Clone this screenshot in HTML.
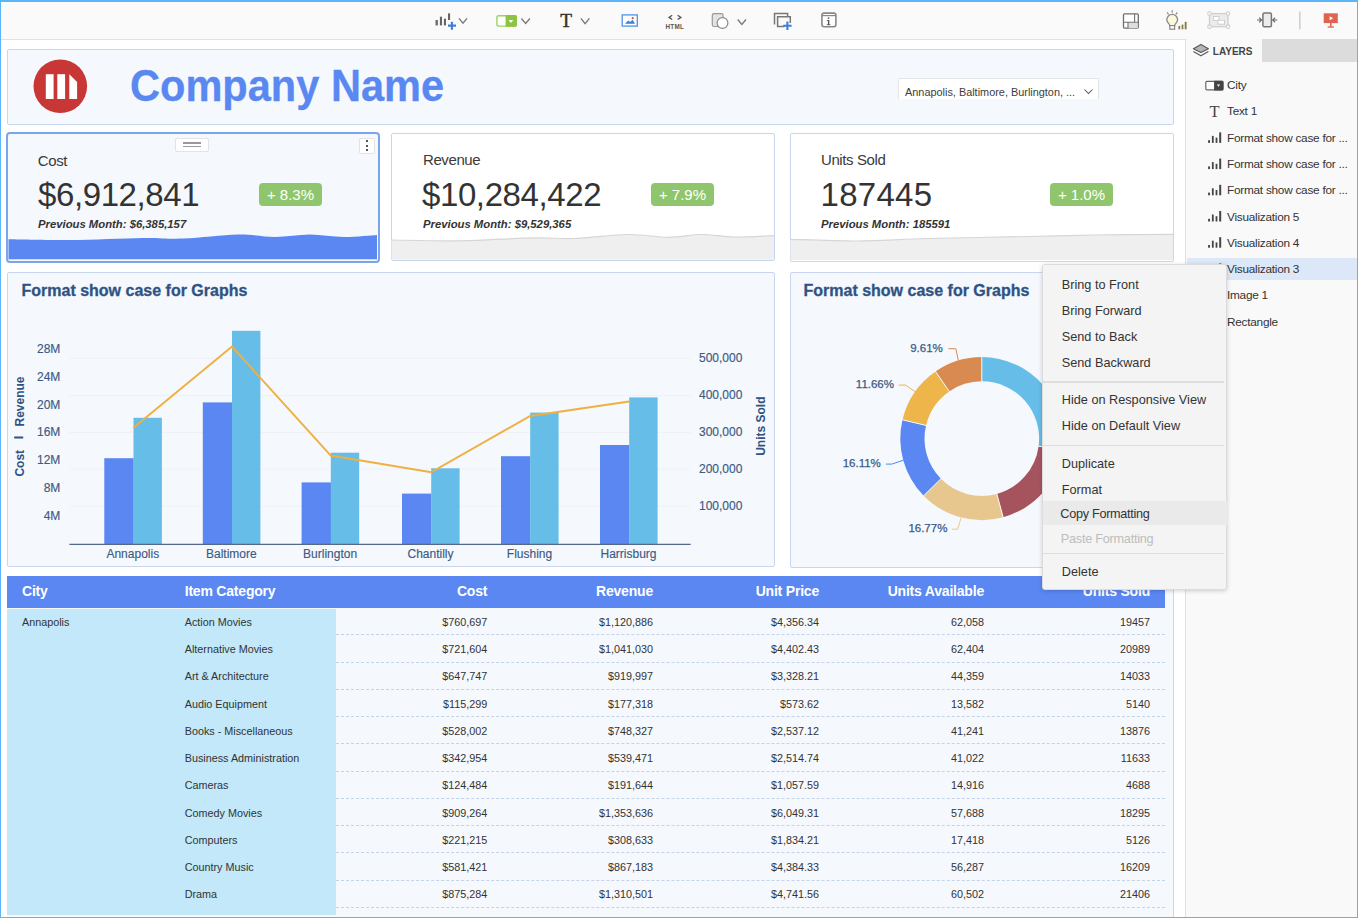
<!DOCTYPE html>
<html><head><meta charset="utf-8">
<style>
*{box-sizing:border-box;margin:0;padding:0}
html,body{width:1360px;height:918px;overflow:hidden;background:#fff;font-family:"Liberation Sans",sans-serif;}
.a{position:absolute}
#frame{position:absolute;left:0;top:0;width:1358px;height:918px;border:1px solid #5bb5f8;border-top:2px solid #5bb5f8;}
#toolbar{position:absolute;left:1px;top:2px;width:1356px;height:37.5px;background:#fafafa;border-bottom:1px solid #e2e2e2;}
.card{position:absolute;background:#f5f8fd;border:1px solid #c8d7ef;border-radius:2px;overflow:hidden}
.kt{position:absolute;font-size:15px;color:#3a3a3a;line-height:1;letter-spacing:-0.4px}
.kv{position:absolute;font-size:33px;color:#333;line-height:1;letter-spacing:-0.4px}
.kp{position:absolute;font-size:11.3px;color:#333;font-weight:bold;font-style:italic;line-height:1}
.badge{position:absolute;width:63px;height:23px;background:#8fc66d;border-radius:4px;color:#fff;font-size:15px;text-align:center;line-height:23px}
.ttl{position:absolute;font-size:16.5px;font-weight:bold;color:#2f5382}
.ax{position:absolute;font-size:12px;color:#3c5a85}
.cm{position:absolute;left:1042px;top:264px;width:185px;height:326px;background:#f4f4f4;border:1px solid #dcdcdc;border-radius:3px;box-shadow:0 1px 4px rgba(0,0,0,.18)}
.mi{position:absolute;left:19px;font-size:12.5px;color:#333;line-height:16px}
.sep{position:absolute;left:0;width:180px;height:2px;background:#e2e2e2}
.li{position:absolute;left:1226px;font-size:11px;color:#333;line-height:14px}
table{border-collapse:collapse}
</style></head><body>
<div id="frame"></div>
<div id="toolbar"></div>
<svg class="a" style="left:0;top:0" width="1360" height="40">
<rect x="435.5" y="20" width="2.4" height="5.4" fill="#6a6a6a"/>
<rect x="439.9" y="16.7" width="2.1" height="8.7" fill="#666"/>
<rect x="443.9" y="18.7" width="2.1" height="6.7" fill="#666"/>
<rect x="448" y="13.3" width="2.1" height="6.7" fill="#666"/>
<path d="M448 25.6H456M451.9 21.7V29.7" stroke="#3d7edb" stroke-width="2.1"/>
<polyline points="459,18.4 463.0,23.2 467,18.4" fill="none" stroke="#777" stroke-width="1.3"/>
<rect x="496.9" y="15.8" width="19.4" height="10.3" rx="1.8" fill="#fff" stroke="#9bd06a" stroke-width="1.4"/>
<path d="M505.6 15.1H515.2A1.8 1.8 0 0 1 517 16.9V25A1.8 1.8 0 0 1 515.2 26.8H505.6Z" fill="#8cc43f"/>
<path d="M508.5 20H513.3L510.9 22.9Z" fill="#fff"/>
<polyline points="521.4,18.5 525.65,23.5 529.9,18.5" fill="none" stroke="#777" stroke-width="1.3"/>
<text x="566.1" y="27" font-family="Liberation Serif" font-size="19.3px" fill="#333" stroke="#333" stroke-width="0.45" text-anchor="middle">T</text>
<polyline points="580.9,18.3 585.15,23.6 589.4,18.3" fill="none" stroke="#777" stroke-width="1.3"/>
<rect x="622.2" y="14.9" width="15.1" height="11.2" fill="#fff" stroke="#5b9ae8" stroke-width="1.4"/>
<path d="M625 23.7L628.2 20.6L630.2 22L632.5 19.8L635 23.7Z" fill="#3d7edb"/>
<circle cx="632.7" cy="18.2" r="1.1" fill="#e05040"/>
<polyline points="672.2,15.3 669,17.4 672.2,19.5" fill="none" stroke="#555" stroke-width="1.3"/>
<polyline points="677.7,15.3 680.9,17.4 677.7,19.5" fill="none" stroke="#555" stroke-width="1.3"/>
<text x="674.8" y="29.1" font-size="6.3px" font-weight="bold" fill="#555" text-anchor="middle" letter-spacing="0.3">HTML</text>
<rect x="712.3" y="13.7" width="10.8" height="12.8" rx="1.8" fill="#e4e4e4" stroke="#999" stroke-width="1.2"/>
<circle cx="722.5" cy="23" r="5.4" fill="#fff" stroke="#8a8a8a" stroke-width="1.2"/>
<polyline points="737.7,19.5 741.85,24.5 746,19.5" fill="none" stroke="#777" stroke-width="1.3"/>
<path d="M774.5 24.5V13.6H787.6V16" fill="none" stroke="#777" stroke-width="1.5"/>
<path d="M784.5 26.6H777.6V16.7H790.3V23" fill="none" stroke="#777" stroke-width="1.5"/>
<path d="M783.2 25.7H791.6M787.4 21.5V29.9" stroke="#3d7edb" stroke-width="2.1"/>
<rect x="821.9" y="13.1" width="14" height="13.7" rx="2.2" fill="#fff" stroke="#888" stroke-width="1.6"/>
<line x1="821.9" x2="835.9" y1="15.6" y2="15.6" stroke="#888" stroke-width="1.2"/>
<rect x="827.8" y="17.4" width="1.5" height="1.5" fill="#555"/><rect x="827.9" y="20" width="1.4" height="5" fill="#555"/><rect x="826.9" y="20" width="1.2" height="0.9" fill="#555"/><rect x="826.8" y="24.3" width="3.6" height="0.9" fill="#555"/>
<rect x="1123.5" y="13.9" width="14.8" height="14.2" rx="1" fill="#fff" stroke="#707070" stroke-width="1.3"/>
<rect x="1128.5" y="22.8" width="9.2" height="5.4" fill="#ddd"/>
<path d="M1134.6 14V22.3M1123.6 22.3H1138.2M1128 22.3V28" fill="none" stroke="#707070" stroke-width="1.1"/>
<path d="M1169.8 25.6C1169.6 23.8 1166.8 22.6 1166.8 19.8A5.4 5.4 0 0 1 1177.6 19.8C1177.6 22.6 1174.8 23.8 1174.6 25.6Z" fill="#fbf8dc" stroke="#888" stroke-width="1.3"/>
<rect x="1169.8" y="25.6" width="4.8" height="3.6" fill="#fff" stroke="#888" stroke-width="1.2"/>
<path d="M1172.2 10.2V12.8M1167.1 12.5L1168.6 14.3M1177.3 12.5L1175.8 14.3" stroke="#888" stroke-width="1.2"/>
<rect x="1178.4" y="25.9" width="1.8" height="3.4" fill="#8a7d4a"/><rect x="1181.6" y="24.6" width="1.8" height="4.7" fill="#8a7d4a"/><rect x="1184.7" y="21.8" width="1.9" height="7.5" fill="#8a7d4a"/>
<rect x="1209.5" y="13.6" width="18.5" height="13.1" fill="#ececec" stroke="#cfcfcf" stroke-width="1.3"/>
<rect x="1213.5" y="16.5" width="5.5" height="4" fill="#fff" stroke="#cfcfcf" stroke-width="1"/><rect x="1218" y="20.2" width="6.5" height="4" fill="#fff" stroke="#cfcfcf" stroke-width="1"/>
<circle cx="1209.5" cy="13.6" r="1.8" fill="#fafafa" stroke="#cfcfcf" stroke-width="1.1"/>
<circle cx="1228" cy="13.6" r="1.8" fill="#fafafa" stroke="#cfcfcf" stroke-width="1.1"/>
<circle cx="1209.5" cy="26.7" r="1.8" fill="#fafafa" stroke="#cfcfcf" stroke-width="1.1"/>
<circle cx="1228" cy="26.7" r="1.8" fill="#fafafa" stroke="#cfcfcf" stroke-width="1.1"/>
<rect x="1262.9" y="13.1" width="8.5" height="13.7" rx="1.5" fill="#ececec" stroke="#777" stroke-width="1.5"/>
<path d="M1257 20H1261.5M1259.2 17.6L1261.6 20L1259.2 22.4M1277.3 20H1272.8M1275.1 17.6L1272.7 20L1275.1 22.4" fill="none" stroke="#666" stroke-width="1.1"/>
<rect x="1299.1" y="11.6" width="1.5" height="17.8" fill="#cdcdcd"/>
<rect x="1323.7" y="13.3" width="14.1" height="9.8" fill="#e0634f"/>
<path d="M1329.6 16.2L1333.2 18.2L1329.6 20.2Z" fill="#fff"/>
<rect x="1330" y="23" width="1.6" height="3.6" fill="#e0634f"/><rect x="1327.7" y="26.3" width="6.1" height="1.4" fill="#e0634f"/>
</svg>

<!-- layers panel -->
<div class="a" style="left:1185px;top:39px;width:172px;height:878px;background:#f9f9f9;border-left:1.5px solid #e0e0e0"></div>
<div class="a" style="left:1262px;top:39px;width:95px;height:22.5px;background:#dcdcdc"></div>
<div class="a" style="left:1187px;top:258.3px;width:170px;height:22px;background:#dce8f8"></div>
<div class="a" style="left:1212.8px;top:46.7px;font-size:10px;line-height:1;color:#444;font-weight:bold;white-space:nowrap">LAYERS</div>
<div class="a" style="left:1227px;top:80.0px;font-size:11.8px;line-height:1;color:#333;letter-spacing:-0.25px;white-space:nowrap">City</div>
<div class="a" style="left:1227px;top:106.3px;font-size:11.8px;line-height:1;color:#333;letter-spacing:-0.25px;white-space:nowrap">Text 1</div>
<div class="a" style="left:1227px;top:132.6px;font-size:11.8px;line-height:1;color:#333;letter-spacing:-0.25px;white-space:nowrap">Format show case for ...</div>
<div class="a" style="left:1227px;top:158.9px;font-size:11.8px;line-height:1;color:#333;letter-spacing:-0.25px;white-space:nowrap">Format show case for ...</div>
<div class="a" style="left:1227px;top:185.2px;font-size:11.8px;line-height:1;color:#333;letter-spacing:-0.25px;white-space:nowrap">Format show case for ...</div>
<div class="a" style="left:1227px;top:211.5px;font-size:11.8px;line-height:1;color:#333;letter-spacing:-0.25px;white-space:nowrap">Visualization 5</div>
<div class="a" style="left:1227px;top:237.8px;font-size:11.8px;line-height:1;color:#333;letter-spacing:-0.25px;white-space:nowrap">Visualization 4</div>
<div class="a" style="left:1227px;top:264.1px;font-size:11.8px;line-height:1;color:#333;letter-spacing:-0.25px;white-space:nowrap">Visualization 3</div>
<div class="a" style="left:1227px;top:290.4px;font-size:11.8px;line-height:1;color:#333;letter-spacing:-0.25px;white-space:nowrap">Image 1</div>
<div class="a" style="left:1227px;top:316.7px;font-size:11.8px;line-height:1;color:#333;letter-spacing:-0.25px;white-space:nowrap">Rectangle</div>

<svg class="a" style="left:1186px;top:40px" width="171" height="300">
<polygon points="7.4,8.7 14.9,4.4 22.4,8.7 14.9,12.5" fill="#b5b5b5" stroke="#5a5a5a" stroke-width="1.2" stroke-linejoin="round"/>
<polyline points="7.4,11.4 14.9,15.8 22.4,11.4" fill="none" stroke="#5a5a5a" stroke-width="1.2" stroke-linejoin="round"/>
<rect x="19.8" y="41.4" width="17.1" height="8.5" rx="1.2" fill="#fff" stroke="#666" stroke-width="1.2"/>
<path d="M28.1 40.8H36.3A1.2 1.2 0 0 1 37.5 42.0V49.3A1.2 1.2 0 0 1 36.3 50.5H28.1Z" fill="#444"/>
<path d="M30.9 44.6H34.1L32.5 46.7Z" fill="#fff"/>
<text x="28.6" y="76.8" font-family="Liberation Serif" font-size="16.5px" fill="#444" text-anchor="middle">T</text>
<rect x="22.1" y="100.2" width="1.9" height="2.7" fill="#454545"/>
<rect x="25.9" y="95.9" width="1.8" height="7.0" fill="#454545"/>
<rect x="29.6" y="97.6" width="1.8" height="5.3" fill="#454545"/>
<rect x="33.2" y="92.4" width="2.0" height="10.5" fill="#454545"/>
<rect x="22.1" y="126.4" width="1.9" height="2.7" fill="#454545"/>
<rect x="25.9" y="122.1" width="1.8" height="7.0" fill="#454545"/>
<rect x="29.6" y="123.8" width="1.8" height="5.3" fill="#454545"/>
<rect x="33.2" y="118.6" width="2.0" height="10.5" fill="#454545"/>
<rect x="22.1" y="152.6" width="1.9" height="2.7" fill="#454545"/>
<rect x="25.9" y="148.3" width="1.8" height="7.0" fill="#454545"/>
<rect x="29.6" y="150.0" width="1.8" height="5.3" fill="#454545"/>
<rect x="33.2" y="144.8" width="2.0" height="10.5" fill="#454545"/>
<rect x="22.1" y="178.8" width="1.9" height="2.7" fill="#454545"/>
<rect x="25.9" y="174.5" width="1.8" height="7.0" fill="#454545"/>
<rect x="29.6" y="176.2" width="1.8" height="5.3" fill="#454545"/>
<rect x="33.2" y="171.0" width="2.0" height="10.5" fill="#454545"/>
<rect x="22.1" y="205.0" width="1.9" height="2.7" fill="#454545"/>
<rect x="25.9" y="200.7" width="1.8" height="7.0" fill="#454545"/>
<rect x="29.6" y="202.4" width="1.8" height="5.3" fill="#454545"/>
<rect x="33.2" y="197.2" width="2.0" height="10.5" fill="#454545"/>
<rect x="22.1" y="231.2" width="1.9" height="2.7" fill="#454545"/>
<rect x="25.9" y="226.9" width="1.8" height="7.0" fill="#454545"/>
<rect x="29.6" y="228.6" width="1.8" height="5.3" fill="#454545"/>
<rect x="33.2" y="223.4" width="2.0" height="10.5" fill="#454545"/>
</svg>
<!-- header -->
<div class="card" style="left:7px;top:49px;width:1167px;height:76px;"></div>
<svg class="a" style="left:33px;top:59px" width="55" height="55"><circle cx="27.3" cy="27.3" r="26.8" fill="#c93636"/><rect x="12.8" y="15.2" width="7.8" height="24.8" fill="#fff"/><rect x="24.3" y="15.2" width="7.8" height="24.8" fill="#fff"/><path d="M36.3 15.2 L44.1 23 L44.1 40 L36.3 40Z" fill="#fff"/></svg>
<div class="a" style="left:130px;top:61.5px;font-size:44.6px;font-weight:bold;color:#5a88f1;line-height:48px;-webkit-text-stroke:0.3px #5a88f1;transform:scaleX(0.932);transform-origin:0 0;white-space:nowrap">Company Name</div>
<div class="a" style="left:898px;top:78px;width:201px;height:21px;background:#fff;border:1px solid #e4e4e4;border-bottom:none;border-radius:2px 2px 0 0"></div>
<div class="a" style="left:905px;top:86.6px;font-size:10.9px;line-height:1;color:#3d3d3d;white-space:nowrap">Annapolis, Baltimore, Burlington, ...</div>
<svg class="a" style="left:1083px;top:88px" width="12" height="8"><polyline points="1.5,1.5 5.5,5.5 9.5,1.5" fill="none" stroke="#555" stroke-width="1.05"/></svg>

<!-- KPI cards -->
<div class="card" style="left:6px;top:132px;width:374px;height:131px;border:2px solid #7aa4ec;border-radius:4px"></div>
<div class="card" style="left:391px;top:133px;width:384px;height:128px;background:#fff"></div>
<div class="card" style="left:790px;top:133px;width:384px;height:129px;background:#fff"></div>


<!-- KPI content -->
<div class="a" style="left:175px;top:138px;width:34px;height:14px;background:#fff;border:1px solid #e3e3e3;border-radius:2px"></div>
<div class="a" style="left:183px;top:142px;width:18px;height:1.5px;background:#999"></div>
<div class="a" style="left:183px;top:145.5px;width:18px;height:1.5px;background:#999"></div>
<div class="a" style="left:359px;top:138px;width:16px;height:16px;background:#fff;border:1px solid #e3e3e3;border-radius:2px"></div>
<div class="a" style="left:366px;top:140px;width:2px;height:2px;background:#555"></div>
<div class="a" style="left:366px;top:144.5px;width:2px;height:2px;background:#555"></div>
<div class="a" style="left:366px;top:149px;width:2px;height:2px;background:#555"></div>

<div class="kt" style="left:37.8px;top:152.7px">Cost</div>
<div class="kv" style="left:38px;top:178.2px">$6,912,841</div>
<div class="kp" style="left:38px;top:218.8px">Previous Month: $6,385,157</div>
<div class="badge" style="left:259px;top:182.5px">+ 8.3%</div>


<div class="kt" style="left:423px;top:152.0px">Revenue</div>
<div class="kv" style="left:422px;top:177.7px">$10,284,422</div>
<div class="kp" style="left:423px;top:218.5px">Previous Month: $9,529,365</div>
<div class="badge" style="left:651px;top:182.5px">+ 7.9%</div>


<div class="kt" style="left:821px;top:152.2px">Units Sold</div>
<div class="kv" style="left:820.5px;top:177.7px;letter-spacing:0.3px">187445</div>
<div class="kp" style="left:821px;top:218.5px">Previous Month: 185591</div>
<div class="badge" style="left:1050px;top:182.5px">+ 1.0%</div>
<svg class="a" style="left:0;top:0" width="1360" height="270"><path d="M8.5 239.3 C17.9 239.4 47.4 240.2 70.0 240.0 C92.6 239.8 124.1 238.2 143.0 237.9 C161.9 237.7 167.7 239.1 183.5 238.5 C199.3 237.9 222.8 234.8 238.0 234.5 C253.2 234.2 263.1 237.0 275.0 237.0 C286.9 237.0 298.2 234.5 309.7 234.5 C321.2 234.5 332.6 236.9 344.0 237.0 C355.4 237.1 372.3 235.3 377.0 235.0 L377 259.3 L8.5 259.3Z" fill="#5a87f2"/><path d="M391.5 240.0 C402.7 240.1 435.2 241.2 458.8 240.8 C482.4 240.5 514.3 238.3 533.4 237.9 C552.5 237.5 557.7 239.1 573.5 238.5 C589.3 237.9 612.2 234.7 628.0 234.5 C643.8 234.3 655.8 237.3 668.0 237.3 C680.2 237.3 690.0 234.6 701.0 234.5 C712.0 234.4 721.8 236.8 734.0 237.0 C746.2 237.2 767.3 235.8 774.0 235.6 L774 259.8 L391.5 259.8Z" fill="#efefef"/><path d="M391.5 240.0 C402.7 240.1 435.2 241.2 458.8 240.8 C482.4 240.5 514.3 238.3 533.4 237.9 C552.5 237.5 557.7 239.1 573.5 238.5 C589.3 237.9 612.2 234.7 628.0 234.5 C643.8 234.3 655.8 237.3 668.0 237.3 C680.2 237.3 690.0 234.6 701.0 234.5 C712.0 234.4 721.8 236.8 734.0 237.0 C746.2 237.2 767.3 235.8 774.0 235.6" fill="none" stroke="#d6d6d6" stroke-width="1.2"/><path d="M790.5 239.3 C801.5 239.6 833.7 241.1 856.7 241.0 C879.7 240.9 899.7 239.2 928.4 238.5 C957.1 237.8 1001.1 237.1 1028.8 236.5 C1056.5 235.9 1070.7 235.4 1094.7 235.0 C1118.7 234.6 1160.0 234.4 1173.0 234.3 L1173 260 L790.5 260Z" fill="#efefef"/><path d="M790.5 239.3 C801.5 239.6 833.7 241.1 856.7 241.0 C879.7 240.9 899.7 239.2 928.4 238.5 C957.1 237.8 1001.1 237.1 1028.8 236.5 C1056.5 235.9 1070.7 235.4 1094.7 235.0 C1118.7 234.6 1160.0 234.4 1173.0 234.3" fill="none" stroke="#d6d6d6" stroke-width="1.2"/></svg>

<!-- charts -->
<div class="card" style="left:7px;top:272px;width:768px;height:295px"></div>
<div class="card" style="left:790px;top:272px;width:384px;height:296px"></div>

<!-- chart1 -->
<svg class="a" style="left:0;top:0" width="1360" height="918" font-family="Liberation Sans">
<text x="21.5" y="296.2" font-size="16px" font-weight="bold" fill="#2f5382" stroke="#2f5382" stroke-width="0.3">Format show case for Graphs</text>
<line x1="69.4" x2="690.7" y1="358.3" y2="358.3" stroke="#f0f1f5" stroke-width="1"/>
<line x1="69.4" x2="690.7" y1="395.5" y2="395.5" stroke="#f0f1f5" stroke-width="1"/>
<line x1="69.4" x2="690.7" y1="432.5" y2="432.5" stroke="#f0f1f5" stroke-width="1"/>
<line x1="69.4" x2="690.7" y1="469.1" y2="469.1" stroke="#f0f1f5" stroke-width="1"/>
<line x1="69.4" x2="690.7" y1="506.2" y2="506.2" stroke="#f0f1f5" stroke-width="1"/>
<text x="60.3" y="353.1" font-size="12px" fill="#3c5a85" stroke="#3c5a85" stroke-width="0.15" text-anchor="end">28M</text>
<text x="60.3" y="380.9" font-size="12px" fill="#3c5a85" stroke="#3c5a85" stroke-width="0.15" text-anchor="end">24M</text>
<text x="60.3" y="408.6" font-size="12px" fill="#3c5a85" stroke="#3c5a85" stroke-width="0.15" text-anchor="end">20M</text>
<text x="60.3" y="436.4" font-size="12px" fill="#3c5a85" stroke="#3c5a85" stroke-width="0.15" text-anchor="end">16M</text>
<text x="60.3" y="464.2" font-size="12px" fill="#3c5a85" stroke="#3c5a85" stroke-width="0.15" text-anchor="end">12M</text>
<text x="60.3" y="492.0" font-size="12px" fill="#3c5a85" stroke="#3c5a85" stroke-width="0.15" text-anchor="end">8M</text>
<text x="60.3" y="519.7" font-size="12px" fill="#3c5a85" stroke="#3c5a85" stroke-width="0.15" text-anchor="end">4M</text>
<text x="699" y="361.7" font-size="12px" fill="#3c5a85" stroke="#3c5a85" stroke-width="0.15">500,000</text>
<text x="699" y="398.7" font-size="12px" fill="#3c5a85" stroke="#3c5a85" stroke-width="0.15">400,000</text>
<text x="699" y="435.6" font-size="12px" fill="#3c5a85" stroke="#3c5a85" stroke-width="0.15">300,000</text>
<text x="699" y="472.6" font-size="12px" fill="#3c5a85" stroke="#3c5a85" stroke-width="0.15">200,000</text>
<text x="699" y="509.6" font-size="12px" fill="#3c5a85" stroke="#3c5a85" stroke-width="0.15">100,000</text>
<rect x="104.3" y="458.2" width="29.4" height="86.1" fill="#5a87f2"/>
<rect x="133.5" y="417.8" width="28.4" height="126.5" fill="#66bde8"/>
<text x="132.8" y="558" font-size="12px" fill="#3c5a85" stroke="#3c5a85" stroke-width="0.15" text-anchor="middle">Annapolis</text>
<rect x="202.8" y="402.4" width="29.4" height="141.9" fill="#5a87f2"/>
<rect x="232.0" y="330.8" width="28.4" height="213.5" fill="#66bde8"/>
<text x="231.3" y="558" font-size="12px" fill="#3c5a85" stroke="#3c5a85" stroke-width="0.15" text-anchor="middle">Baltimore</text>
<rect x="301.6" y="482.4" width="29.4" height="61.9" fill="#5a87f2"/>
<rect x="330.8" y="452.7" width="28.4" height="91.6" fill="#66bde8"/>
<text x="330.1" y="558" font-size="12px" fill="#3c5a85" stroke="#3c5a85" stroke-width="0.15" text-anchor="middle">Burlington</text>
<rect x="402.0" y="493.6" width="29.4" height="50.7" fill="#5a87f2"/>
<rect x="431.2" y="468.3" width="28.4" height="76.0" fill="#66bde8"/>
<text x="430.5" y="558" font-size="12px" fill="#3c5a85" stroke="#3c5a85" stroke-width="0.15" text-anchor="middle">Chantilly</text>
<rect x="501.0" y="456.2" width="29.4" height="88.1" fill="#5a87f2"/>
<rect x="530.2" y="412.6" width="28.4" height="131.7" fill="#66bde8"/>
<text x="529.5" y="558" font-size="12px" fill="#3c5a85" stroke="#3c5a85" stroke-width="0.15" text-anchor="middle">Flushing</text>
<rect x="600.0" y="445.0" width="29.4" height="99.3" fill="#5a87f2"/>
<rect x="629.2" y="397.4" width="28.4" height="146.9" fill="#66bde8"/>
<text x="628.5" y="558" font-size="12px" fill="#3c5a85" stroke="#3c5a85" stroke-width="0.15" text-anchor="middle">Harrisburg</text>
<polyline points="133.5,427.7 232.0,346.6 330.8,455.6 431.2,472.3 530.2,415.9 629.2,401.4" fill="none" stroke="#efb040" stroke-width="2"/>
<line x1="69.4" x2="690.7" y1="544.3" y2="544.3" stroke="#54698a" stroke-width="1.2"/>
<text transform="translate(24.3,476.6) rotate(-90)" font-size="12px" font-weight="bold" fill="#2f5382">Cost</text>
<rect x="14.2" y="436.5" width="9" height="2" fill="#2f5382"/>
<text transform="translate(24.3,426.5) rotate(-90)" font-size="12px" font-weight="bold" fill="#2f5382">Revenue</text>
<text transform="translate(765.3,455.8) rotate(-90)" font-size="12px" font-weight="bold" fill="#2f5382">Units Sold</text>
</svg>
<!-- chart2 -->
<svg class="a" style="left:0;top:0" width="1360" height="918" font-family="Liberation Sans">
<text x="803.5" y="296.2" font-size="16px" font-weight="bold" fill="#2f5382" stroke="#2f5382" stroke-width="0.3">Format show case for Graphs</text>
<path d="M981.80 357.10 A81.5 81.5 0 0 1 1062.58 449.38 L1038.60 446.18 A57.3 57.3 0 0 0 981.80 381.30Z" fill="#66bde8"/>
<path d="M1062.58 449.38 A81.5 81.5 0 0 1 1003.17 517.25 L996.82 493.90 A57.3 57.3 0 0 0 1038.60 446.18Z" fill="#a5545e"/>
<path d="M1003.17 517.25 A81.5 81.5 0 0 1 923.67 495.72 L940.93 478.76 A57.3 57.3 0 0 0 996.82 493.90Z" fill="#e8c78e"/>
<path d="M923.67 495.72 A81.5 81.5 0 0 1 902.49 419.85 L926.04 425.42 A57.3 57.3 0 0 0 940.93 478.76Z" fill="#5a87f2"/>
<path d="M902.49 419.85 A81.5 81.5 0 0 1 935.52 371.51 L949.26 391.43 A57.3 57.3 0 0 0 926.04 425.42Z" fill="#eeb64a"/>
<path d="M935.52 371.51 A81.5 81.5 0 0 1 981.80 357.10 L981.80 381.30 A57.3 57.3 0 0 0 949.26 391.43Z" fill="#d98a50"/>
<line x1="981.80" y1="382.30" x2="981.80" y2="356.10" stroke="#f5f8fd" stroke-width="1"/>
<line x1="1037.61" y1="446.05" x2="1063.58" y2="449.51" stroke="#f5f8fd" stroke-width="1"/>
<line x1="996.56" y1="492.93" x2="1003.43" y2="518.21" stroke="#f5f8fd" stroke-width="1"/>
<line x1="941.64" y1="478.06" x2="922.96" y2="496.43" stroke="#f5f8fd" stroke-width="1"/>
<line x1="927.01" y1="425.65" x2="901.51" y2="419.62" stroke="#f5f8fd" stroke-width="1"/>
<line x1="949.83" y1="392.26" x2="934.95" y2="370.69" stroke="#f5f8fd" stroke-width="1"/>
<polyline points="948.4,348.7 955.8,348.7 958.3,360.3" fill="none" stroke="#d98a50" stroke-width="1"/>
<polyline points="898.7,385.1 905.5,385.1 915.3,391.8" fill="none" stroke="#eeb64a" stroke-width="1"/>
<polyline points="885.9,464.1 891.8,464.1 903.5,460.2" fill="none" stroke="#5a87f2" stroke-width="1"/>
<polyline points="952.1,529.2 957.6,529.2 961.2,517.6" fill="none" stroke="#e8c78e" stroke-width="1"/>
<text x="942.8" y="352.4" font-size="11.5px" fill="#3c5a85" stroke="#3c5a85" stroke-width="0.25" text-anchor="end">9.61%</text>
<text x="894" y="388.3" font-size="11.5px" fill="#3c5a85" stroke="#3c5a85" stroke-width="0.25" text-anchor="end">11.66%</text>
<text x="880.8" y="466.8" font-size="11.5px" fill="#3c5a85" stroke="#3c5a85" stroke-width="0.25" text-anchor="end">16.11%</text>
<text x="947.4" y="531.5" font-size="11.5px" fill="#3c5a85" stroke="#3c5a85" stroke-width="0.25" text-anchor="end">16.77%</text>
</svg>
<!-- table -->
<div class="a" style="left:7px;top:576px;width:1167px;height:341px;background:#f5f8fd;border-right:1px solid #c8d7ef"></div>
<div class="a" style="left:7px;top:575.5px;width:1157.5px;height:32px;background:#5a87f2"></div>
<div class="a" style="left:7px;top:608.5px;width:329px;height:306.5px;background:#c2e8f9"></div>
<div class="a" style="left:22px;top:584.4px;font-size:14px;letter-spacing:-0.2px;line-height:1;font-weight:bold;color:#fff;white-space:nowrap">City</div>
<div class="a" style="left:184.7px;top:584.4px;font-size:14px;letter-spacing:-0.2px;line-height:1;font-weight:bold;color:#fff;white-space:nowrap">Item Category</div>
<div class="a" style="right:872.8px;top:584.4px;font-size:14px;letter-spacing:-0.2px;font-weight:bold;line-height:1;color:#fff;white-space:nowrap">Cost</div>
<div class="a" style="right:707px;top:584.4px;font-size:14px;letter-spacing:-0.2px;font-weight:bold;line-height:1;color:#fff;white-space:nowrap">Revenue</div>
<div class="a" style="right:541px;top:584.4px;font-size:14px;letter-spacing:-0.2px;font-weight:bold;line-height:1;color:#fff;white-space:nowrap">Unit Price</div>
<div class="a" style="right:376px;top:584.4px;font-size:14px;letter-spacing:-0.2px;font-weight:bold;line-height:1;color:#fff;white-space:nowrap">Units Available</div>
<div class="a" style="right:210px;top:584.4px;font-size:14px;letter-spacing:-0.2px;font-weight:bold;line-height:1;color:#fff;white-space:nowrap">Units Sold</div>
<div class="a" style="left:22px;top:616.8px;font-size:10.8px;line-height:1;color:#333;white-space:nowrap">Annapolis</div>
<div class="a" style="left:184.7px;top:616.8px;font-size:10.8px;line-height:1;color:#333;white-space:nowrap">Action Movies</div>
<div class="a" style="right:872.8px;top:616.8px;font-size:10.8px;line-height:1;color:#333;white-space:nowrap">$760,697</div>
<div class="a" style="right:707.0px;top:616.8px;font-size:10.8px;line-height:1;color:#333;white-space:nowrap">$1,120,886</div>
<div class="a" style="right:541.0px;top:616.8px;font-size:10.8px;line-height:1;color:#333;white-space:nowrap">$4,356.34</div>
<div class="a" style="right:376.0px;top:616.8px;font-size:10.8px;line-height:1;color:#333;white-space:nowrap">62,058</div>
<div class="a" style="right:210.0px;top:616.8px;font-size:10.8px;line-height:1;color:#333;white-space:nowrap">19457</div>
<div class="a" style="left:336px;top:634.3px;width:829px;height:0;border-top:1px dashed #c5d3ea"></div>
<div class="a" style="left:184.7px;top:644.0px;font-size:10.8px;line-height:1;color:#333;white-space:nowrap">Alternative Movies</div>
<div class="a" style="right:872.8px;top:644.0px;font-size:10.8px;line-height:1;color:#333;white-space:nowrap">$721,604</div>
<div class="a" style="right:707.0px;top:644.0px;font-size:10.8px;line-height:1;color:#333;white-space:nowrap">$1,041,030</div>
<div class="a" style="right:541.0px;top:644.0px;font-size:10.8px;line-height:1;color:#333;white-space:nowrap">$4,402.43</div>
<div class="a" style="right:376.0px;top:644.0px;font-size:10.8px;line-height:1;color:#333;white-space:nowrap">62,404</div>
<div class="a" style="right:210.0px;top:644.0px;font-size:10.8px;line-height:1;color:#333;white-space:nowrap">20989</div>
<div class="a" style="left:336px;top:661.5px;width:829px;height:0;border-top:1px dashed #c5d3ea"></div>
<div class="a" style="left:184.7px;top:671.3px;font-size:10.8px;line-height:1;color:#333;white-space:nowrap">Art &amp; Architecture</div>
<div class="a" style="right:872.8px;top:671.3px;font-size:10.8px;line-height:1;color:#333;white-space:nowrap">$647,747</div>
<div class="a" style="right:707.0px;top:671.3px;font-size:10.8px;line-height:1;color:#333;white-space:nowrap">$919,997</div>
<div class="a" style="right:541.0px;top:671.3px;font-size:10.8px;line-height:1;color:#333;white-space:nowrap">$3,328.21</div>
<div class="a" style="right:376.0px;top:671.3px;font-size:10.8px;line-height:1;color:#333;white-space:nowrap">44,359</div>
<div class="a" style="right:210.0px;top:671.3px;font-size:10.8px;line-height:1;color:#333;white-space:nowrap">14033</div>
<div class="a" style="left:336px;top:688.8px;width:829px;height:0;border-top:1px dashed #c5d3ea"></div>
<div class="a" style="left:184.7px;top:698.5px;font-size:10.8px;line-height:1;color:#333;white-space:nowrap">Audio Equipment</div>
<div class="a" style="right:872.8px;top:698.5px;font-size:10.8px;line-height:1;color:#333;white-space:nowrap">$115,299</div>
<div class="a" style="right:707.0px;top:698.5px;font-size:10.8px;line-height:1;color:#333;white-space:nowrap">$177,318</div>
<div class="a" style="right:541.0px;top:698.5px;font-size:10.8px;line-height:1;color:#333;white-space:nowrap">$573.62</div>
<div class="a" style="right:376.0px;top:698.5px;font-size:10.8px;line-height:1;color:#333;white-space:nowrap">13,582</div>
<div class="a" style="right:210.0px;top:698.5px;font-size:10.8px;line-height:1;color:#333;white-space:nowrap">5140</div>
<div class="a" style="left:336px;top:716.0px;width:829px;height:0;border-top:1px dashed #c5d3ea"></div>
<div class="a" style="left:184.7px;top:725.8px;font-size:10.8px;line-height:1;color:#333;white-space:nowrap">Books - Miscellaneous</div>
<div class="a" style="right:872.8px;top:725.8px;font-size:10.8px;line-height:1;color:#333;white-space:nowrap">$528,002</div>
<div class="a" style="right:707.0px;top:725.8px;font-size:10.8px;line-height:1;color:#333;white-space:nowrap">$748,327</div>
<div class="a" style="right:541.0px;top:725.8px;font-size:10.8px;line-height:1;color:#333;white-space:nowrap">$2,537.12</div>
<div class="a" style="right:376.0px;top:725.8px;font-size:10.8px;line-height:1;color:#333;white-space:nowrap">41,241</div>
<div class="a" style="right:210.0px;top:725.8px;font-size:10.8px;line-height:1;color:#333;white-space:nowrap">13876</div>
<div class="a" style="left:336px;top:743.3px;width:829px;height:0;border-top:1px dashed #c5d3ea"></div>
<div class="a" style="left:184.7px;top:753.0px;font-size:10.8px;line-height:1;color:#333;white-space:nowrap">Business Administration</div>
<div class="a" style="right:872.8px;top:753.0px;font-size:10.8px;line-height:1;color:#333;white-space:nowrap">$342,954</div>
<div class="a" style="right:707.0px;top:753.0px;font-size:10.8px;line-height:1;color:#333;white-space:nowrap">$539,471</div>
<div class="a" style="right:541.0px;top:753.0px;font-size:10.8px;line-height:1;color:#333;white-space:nowrap">$2,514.74</div>
<div class="a" style="right:376.0px;top:753.0px;font-size:10.8px;line-height:1;color:#333;white-space:nowrap">41,022</div>
<div class="a" style="right:210.0px;top:753.0px;font-size:10.8px;line-height:1;color:#333;white-space:nowrap">11633</div>
<div class="a" style="left:336px;top:770.5px;width:829px;height:0;border-top:1px dashed #c5d3ea"></div>
<div class="a" style="left:184.7px;top:780.3px;font-size:10.8px;line-height:1;color:#333;white-space:nowrap">Cameras</div>
<div class="a" style="right:872.8px;top:780.3px;font-size:10.8px;line-height:1;color:#333;white-space:nowrap">$124,484</div>
<div class="a" style="right:707.0px;top:780.3px;font-size:10.8px;line-height:1;color:#333;white-space:nowrap">$191,644</div>
<div class="a" style="right:541.0px;top:780.3px;font-size:10.8px;line-height:1;color:#333;white-space:nowrap">$1,057.59</div>
<div class="a" style="right:376.0px;top:780.3px;font-size:10.8px;line-height:1;color:#333;white-space:nowrap">14,916</div>
<div class="a" style="right:210.0px;top:780.3px;font-size:10.8px;line-height:1;color:#333;white-space:nowrap">4688</div>
<div class="a" style="left:336px;top:797.8px;width:829px;height:0;border-top:1px dashed #c5d3ea"></div>
<div class="a" style="left:184.7px;top:807.5px;font-size:10.8px;line-height:1;color:#333;white-space:nowrap">Comedy Movies</div>
<div class="a" style="right:872.8px;top:807.5px;font-size:10.8px;line-height:1;color:#333;white-space:nowrap">$909,264</div>
<div class="a" style="right:707.0px;top:807.5px;font-size:10.8px;line-height:1;color:#333;white-space:nowrap">$1,353,636</div>
<div class="a" style="right:541.0px;top:807.5px;font-size:10.8px;line-height:1;color:#333;white-space:nowrap">$6,049.31</div>
<div class="a" style="right:376.0px;top:807.5px;font-size:10.8px;line-height:1;color:#333;white-space:nowrap">57,688</div>
<div class="a" style="right:210.0px;top:807.5px;font-size:10.8px;line-height:1;color:#333;white-space:nowrap">18295</div>
<div class="a" style="left:336px;top:825.0px;width:829px;height:0;border-top:1px dashed #c5d3ea"></div>
<div class="a" style="left:184.7px;top:834.8px;font-size:10.8px;line-height:1;color:#333;white-space:nowrap">Computers</div>
<div class="a" style="right:872.8px;top:834.8px;font-size:10.8px;line-height:1;color:#333;white-space:nowrap">$221,215</div>
<div class="a" style="right:707.0px;top:834.8px;font-size:10.8px;line-height:1;color:#333;white-space:nowrap">$308,633</div>
<div class="a" style="right:541.0px;top:834.8px;font-size:10.8px;line-height:1;color:#333;white-space:nowrap">$1,834.21</div>
<div class="a" style="right:376.0px;top:834.8px;font-size:10.8px;line-height:1;color:#333;white-space:nowrap">17,418</div>
<div class="a" style="right:210.0px;top:834.8px;font-size:10.8px;line-height:1;color:#333;white-space:nowrap">5126</div>
<div class="a" style="left:336px;top:852.3px;width:829px;height:0;border-top:1px dashed #c5d3ea"></div>
<div class="a" style="left:184.7px;top:862.0px;font-size:10.8px;line-height:1;color:#333;white-space:nowrap">Country Music</div>
<div class="a" style="right:872.8px;top:862.0px;font-size:10.8px;line-height:1;color:#333;white-space:nowrap">$581,421</div>
<div class="a" style="right:707.0px;top:862.0px;font-size:10.8px;line-height:1;color:#333;white-space:nowrap">$867,183</div>
<div class="a" style="right:541.0px;top:862.0px;font-size:10.8px;line-height:1;color:#333;white-space:nowrap">$4,384.33</div>
<div class="a" style="right:376.0px;top:862.0px;font-size:10.8px;line-height:1;color:#333;white-space:nowrap">56,287</div>
<div class="a" style="right:210.0px;top:862.0px;font-size:10.8px;line-height:1;color:#333;white-space:nowrap">16209</div>
<div class="a" style="left:336px;top:879.5px;width:829px;height:0;border-top:1px dashed #c5d3ea"></div>
<div class="a" style="left:184.7px;top:889.3px;font-size:10.8px;line-height:1;color:#333;white-space:nowrap">Drama</div>
<div class="a" style="right:872.8px;top:889.3px;font-size:10.8px;line-height:1;color:#333;white-space:nowrap">$875,284</div>
<div class="a" style="right:707.0px;top:889.3px;font-size:10.8px;line-height:1;color:#333;white-space:nowrap">$1,310,501</div>
<div class="a" style="right:541.0px;top:889.3px;font-size:10.8px;line-height:1;color:#333;white-space:nowrap">$4,741.56</div>
<div class="a" style="right:376.0px;top:889.3px;font-size:10.8px;line-height:1;color:#333;white-space:nowrap">60,502</div>
<div class="a" style="right:210.0px;top:889.3px;font-size:10.8px;line-height:1;color:#333;white-space:nowrap">21406</div>
<div class="a" style="left:336px;top:906.8px;width:829px;height:0;border-top:1px dashed #c5d3ea"></div>

<!-- context menu -->
<div class="cm"></div>
<div class="a" style="left:1043px;top:501.3px;width:183.5px;height:23.7px;background:#eaeaea"></div>
<div class="a" style="left:1043px;top:381.2px;width:181px;height:1.5px;background:#dedede"></div>
<div class="a" style="left:1043px;top:444.7px;width:181px;height:1.5px;background:#dedede"></div>
<div class="a" style="left:1043px;top:552.7px;width:181px;height:1.5px;background:#dedede"></div>
<div class="a" style="left:1061.8px;top:278.5px;font-size:12.7px;line-height:1;color:#333;white-space:nowrap">Bring to Front</div>
<div class="a" style="left:1061.8px;top:304.6px;font-size:12.7px;line-height:1;color:#333;white-space:nowrap">Bring Forward</div>
<div class="a" style="left:1061.8px;top:330.8px;font-size:12.7px;line-height:1;color:#333;white-space:nowrap">Send to Back</div>
<div class="a" style="left:1061.8px;top:356.9px;font-size:12.7px;line-height:1;color:#333;white-space:nowrap">Send Backward</div>
<div class="a" style="left:1061.8px;top:394.0px;font-size:12.7px;line-height:1;color:#333;white-space:nowrap">Hide on Responsive View</div>
<div class="a" style="left:1061.8px;top:420.1px;font-size:12.7px;line-height:1;color:#333;white-space:nowrap">Hide on Default View</div>
<div class="a" style="left:1061.8px;top:457.9px;font-size:12.7px;line-height:1;color:#333;white-space:nowrap">Duplicate</div>
<div class="a" style="left:1061.8px;top:484.0px;font-size:12.7px;line-height:1;color:#333;white-space:nowrap">Format</div>
<div class="a" style="left:1061.8px;top:565.9px;font-size:12.7px;line-height:1;color:#333;white-space:nowrap">Delete</div>
<div class="a" style="left:1060.3px;top:507.5px;font-size:12.7px;line-height:1;color:#333;white-space:nowrap;letter-spacing:-0.3px">Copy Formatting</div>
<div class="a" style="left:1060.8px;top:533.2px;font-size:12.7px;line-height:1;color:#bdbdbd;white-space:nowrap;letter-spacing:-0.25px">Paste Formatting</div>
</body></html>
